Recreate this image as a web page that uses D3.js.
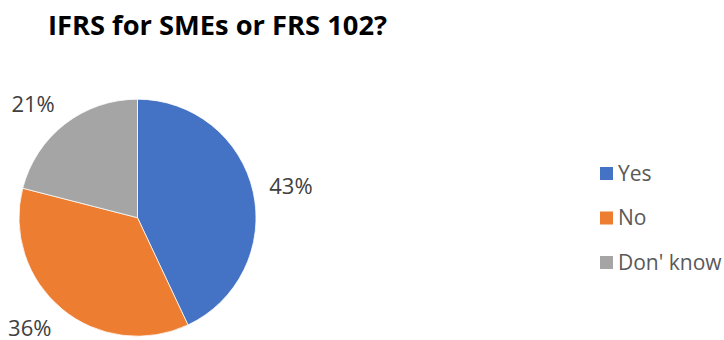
<!DOCTYPE html>
<html>
<head>
<meta charset="utf-8">
<script src="https://cdn.jsdelivr.net/npm/d3@7"></script>
<style>
  body { margin: 0; background: #fff; }
  text { font-family: "Open Sans", "Noto Sans", sans-serif; }
</style>
</head>
<body>
<svg id="chart"></svg>
<script>
// data
const categories = ["Yes", "No", "Don' know"];
const shares = [43, 36, 21];
const colors = ["#4472C4", "#ED7D31", "#A5A5A5"];
const chartTitle = "IFRS for SMEs or FRS 102?";

const width = 724, height = 340;
const cx = 137.5, cy = 217.7, radius = 118.5;

const svg = d3.select("#chart")
  .attr("width", width)
  .attr("height", height)
  .attr("viewBox", [0, 0, width, height]);

svg.append("text")
  .attr("x", 48)
  .attr("y", 35)
  .attr("fill", "#000")
  .style("font-weight", 700)
  .style("font-size", "27px")
  .attr("textLength", 339)
  .attr("lengthAdjust", "spacingAndGlyphs")
  .text(chartTitle);

const pie = d3.pie().sort(null).value(d => d);
const arcs = pie(shares);
const arc = d3.arc().innerRadius(0).outerRadius(radius);
const labelR = 135;

const g = svg.append("g").attr("transform", `translate(${cx},${cy})`);

g.selectAll("path")
  .data(arcs)
  .join("path")
    .attr("d", arc)
    .attr("fill", (d, i) => colors[i])
    .attr("stroke", "#fff")
    .attr("stroke-width", 0.75);

// outside-end labels, pushed out from the pie edge
const labels = g.selectAll("text")
  .data(arcs)
  .join("text")
    .attr("text-anchor", "middle")
    .attr("dy", "0.35em")
    .attr("fill", "#404040")
    .style("font-size", "22px")
    .text(d => d.data + "%");

labels.each(function(d) {
  const a = (d.startAngle + d.endAngle) / 2;
  const sx = Math.sin(a), sy = -Math.cos(a);
  const bb = this.getBBox();
  const x = labelR * sx + Math.sign(sx) * bb.width / 2;
  const y = (labelR + 8) * sy;
  d3.select(this).attr("transform", `translate(${x},${y})`);
});

// legend
const legendY = d3.scalePoint(categories, [173.5, 262.5]);
const legend = svg.append("g");
const item = legend.selectAll("g")
  .data(categories)
  .join("g")
    .attr("transform", d => `translate(600,${legendY(d)})`);

item.append("rect")
  .attr("x", 0)
  .attr("y", -6.5)
  .attr("width", 13)
  .attr("height", 13)
  .attr("fill", (d, i) => colors[i]);

item.append("text")
  .attr("x", 18)
  .attr("dy", "0.35em")
  .attr("fill", "#595959")
  .style("font-size", "21px")
  .text(d => d);
</script>
</body>
</html>
